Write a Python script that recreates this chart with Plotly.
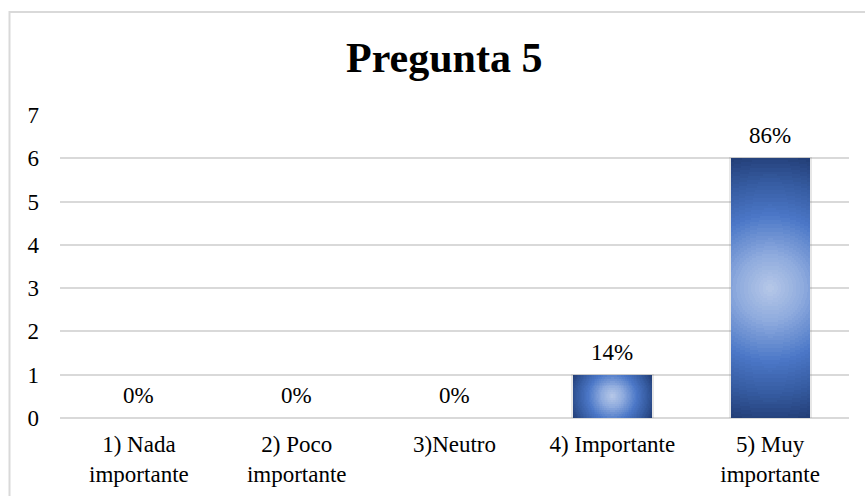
import plotly.graph_objects as go

# Survey answers for question 5
categories = ["1) Nada<br>importante", "2) Poco<br>importante", "3)Neutro",
              "4) Importante", "5) Muy<br>importante"]
counts = [0, 0, 0, 1, 6]
total = sum(counts)
pct_labels = [f"{round(100 * c / total)}%" for c in counts]
y_ticks = [0, 1, 2, 3, 4, 5, 6, 7]

FONT = "Liberation Serif"
W, H = 865, 496
M = dict(l=60, r=16, t=115, b=78)
plot_w = W - M["l"] - M["r"]
plot_h = H - M["t"] - M["b"]
x_range = [-0.5, 4.5]
y_range = [0, 7]
px_per_x = plot_w / (x_range[1] - x_range[0])
px_per_y = plot_h / (y_range[1] - y_range[0])
BAR_W = 0.5


def hex_to_rgb(h):
    h = h.lstrip("#")
    return tuple(int(h[i:i + 2], 16) for i in (0, 2, 4))


STOPS = [(0.0, "#b8c9e8"), (0.25, "#90acde"), (0.55, "#4b77c7"),
         (0.8, "#355a9f"), (1.0, "#233f78")]


def grad_color(t):
    for (t0, c0), (t1, c1) in zip(STOPS, STOPS[1:]):
        if t <= t1:
            f = (t - t0) / (t1 - t0) if t1 > t0 else 0
            a, b = hex_to_rgb(c0), hex_to_rgb(c1)
            return "rgb({},{},{})".format(*(round(a[i] + (b[i] - a[i]) * f) for i in range(3)))
    return STOPS[-1][1]


fig = go.Figure()
xs = list(range(len(counts)))

# faint shadow around each bar
fig.add_trace(go.Bar(
    x=xs, y=[c + (2 / px_per_y if c else 0) for c in counts],
    base=[-1 / px_per_y if c else 0 for c in counts],
    width=BAR_W + 4 / px_per_x, marker=dict(color="rgba(120,120,120,0.18)", line=dict(width=0)),
    hoverinfo="skip", showlegend=False))

# solid base of every bar in the darkest edge colour
fig.add_trace(go.Bar(x=xs, y=counts, width=BAR_W,
                     marker=dict(color=grad_color(1.0), line=dict(width=0)),
                     hoverinfo="skip", showlegend=False))

# circular gradient: each bar is cut into thin rows, every ring layer
# paints the part of each row that lies inside its radius
ROW_PX = 2
N = 36
rows = []  # (bar index, row base, row height, row distance from bar centre px, half-width px, radius px)
for i, c in enumerate(counts):
    if c == 0:
        continue
    h_px = c * px_per_y
    half_w = BAR_W * px_per_x / 2
    R = (half_w ** 2 + (h_px / 2) ** 2) ** 0.5
    n = max(1, round(h_px / ROW_PX))
    for j in range(n):
        b = c * j / n
        dy = abs((b + c / (2 * n)) - c / 2) * px_per_y
        rows.append((i, b, c / n, dy, half_w, R))

for k in range(1, N):
    t = 1 - k / N
    rx, rb, ry, rw = [], [], [], []
    for i, b, hgt, dy, half_w, R in rows:
        r = t * R
        if r <= dy:
            continue
        hw = min(half_w, (r * r - dy * dy) ** 0.5)
        rx.append(i)
        rb.append(b)
        ry.append(hgt * 1.02)
        rw.append(2 * hw / px_per_x)
    if rx:
        fig.add_trace(go.Bar(x=rx, y=ry, base=rb, width=rw,
                             marker=dict(color=grad_color(t), line=dict(width=0)),
                             hoverinfo="skip", showlegend=False))

for i, (c, lab) in enumerate(zip(counts, pct_labels)):
    fig.add_annotation(x=i, y=c, text=lab, showarrow=False, yanchor="bottom",
                       yshift=8, font=dict(family=FONT, size=23, color="#000"))

fig.add_annotation(xref="paper", yref="paper", x=(444 - M["l"]) / plot_w,
                   y=(H - M["b"] - 58) / plot_h, text="<b>Pregunta 5</b>", showarrow=False,
                   xanchor="center", yanchor="middle",
                   font=dict(family=FONT, size=42, color="#000"))

# outer chart frame
fig.add_shape(type="rect", xref="paper", yref="paper",
              x0=(9.5 - M["l"]) / plot_w, x1=(880 - M["l"]) / plot_w,
              y0=(H - M["b"] - 510) / plot_h, y1=(H - M["b"] - 12) / plot_h,
              line=dict(color="#d9d9d9", width=2), fillcolor="rgba(0,0,0,0)", layer="below")

fig.update_layout(
    width=W, height=H, margin=M, barmode="overlay", bargap=0,
    paper_bgcolor="white", plot_bgcolor="white",
    font=dict(family=FONT, size=23, color="#000"),
    showlegend=False,
)
fig.update_xaxes(range=x_range, tickmode="array", tickvals=xs, automargin=False,
                 ticktext=categories, showgrid=False, zeroline=False, showline=False,
                 ticks="", ticklabelstandoff=10, tickfont=dict(family=FONT, size=23))
fig.update_yaxes(range=y_range, tickvals=y_ticks, showgrid=True, gridcolor="#d9d9d9",
                 gridwidth=1.5, zeroline=True, zerolinecolor="#d9d9d9", zerolinewidth=2,
                 showline=False, ticks="", ticklabelstandoff=20, automargin=False,
                 tickfont=dict(family=FONT, size=23))

fig.write_html("out.html")
